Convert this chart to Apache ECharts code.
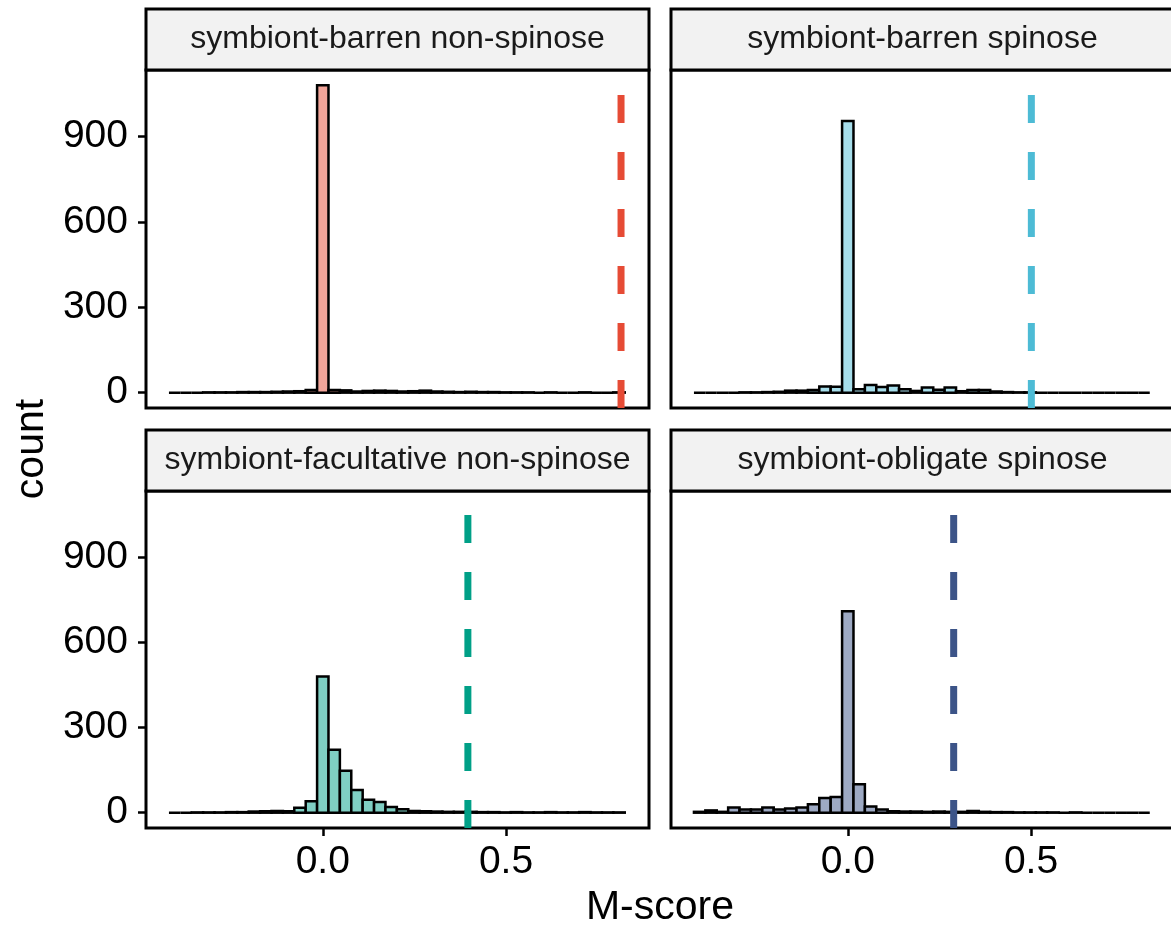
<!DOCTYPE html>
<html>
<head>
<meta charset="utf-8">
<script src="https://cdn.jsdelivr.net/npm/echarts@6/dist/echarts.min.js"></script>
<style>
html,body{margin:0;padding:0;background:#fff;}
#chart{width:1171px;height:931px;}
</style>
</head>
<body>
<div id="chart"></div>
<script>
// histogram bins: 40 bins, bin 13 is centred on 0
var binWidth = 0.0311;
var zeroBin = 13;

var panelNames = ['symbiont-barren non-spinose', 'symbiont-barren spinose',
                  'symbiont-facultative non-spinose', 'symbiont-obligate spinose'];

// counts per bin
var barrenNonSpinose = [0,0,0,1,1,1,2,2,2,3,4,5,9,1080,9,8,4,6,7,6,4,5,7,4,3,2,3,2,2,1,1,1,0,1,0,0,1,0,0,1];
var barrenSpinose = [0,0,0,0,1,1,2,3,7,7,9,22,21,955,12,27,20,25,12,6,18,10,18,5,9,9,4,2,1,1,0,0,0,0,0,0,0,0,0,0];
var facultativeNonSpinose = [0,0,1,1,1,2,2,4,5,6,5,17,40,480,222,148,80,46,38,20,12,6,5,4,3,3,3,2,2,1,2,1,1,2,1,1,2,1,1,1];
var obligateSpinose = [3,8,3,18,11,11,18,11,15,18,30,52,55,710,100,22,11,5,4,4,3,4,3,3,6,3,2,2,1,1,1,1,0,1,0,0,0,0,0,0];

// observed M-score per group (dashed lines)
var observed = [0.814, 0.501, 0.396, 0.289];

var lineColors = ['#E64B35', '#4DBBD5', '#00A087', '#3C5488'];
var fillColors = ['#F2A59A', '#A6DDEA', '#7FCFC3', '#9DA9C3'];

var yTicks = [0, 300, 600, 900];
var xTicks = [0, 0.5];

var font = '"Liberation Sans", Arial, Helvetica, sans-serif';
var yMin = -54, yMax = 1134;
var xMin = -0.4825;
var pxPerUnit = 366.4;

var allCounts = [barrenNonSpinose, barrenSpinose, facultativeNonSpinose, obligateSpinose];

var myChart = echarts.init(document.getElementById('chart'));

// right panels run past the edge of the picture, as in the original
var boxes = [
    {left: 146, top: 70, width: 503, height: 338},
    {left: 671, top: 70, width: 507, height: 338},
    {left: 146, top: 491, width: 503, height: 337},
    {left: 671, top: 491, width: 507, height: 337}
];

var grids = [], xAxes = [], yAxes = [], series = [], graphics = [];

for (var p = 0; p < 4; p++) {
    var b = boxes[p];
    grids.push({left: b.left, top: b.top, width: b.width, height: b.height,
        outerBoundsMode: 'none', containLabel: false,
        show: true, borderColor: '#000', borderWidth: 3, backgroundColor: '#fff'});
    var bottomRow = p >= 2, leftCol = p % 2 === 0;
    xAxes.push({
        type: 'value', gridIndex: p, min: xMin, max: xMin + b.width / pxPerUnit,
        splitLine: {show: false},
        axisLine: {show: false, onZero: false},
        axisTick: {show: bottomRow, length: 8, lineStyle: {color: '#000', width: 2.5}, customValues: xTicks},
        axisLabel: {show: bottomRow, customValues: xTicks, fontSize: 39, color: '#000', fontFamily: font, margin: 15,
            formatter: function (v) { return v.toFixed(1); }}
    });
    yAxes.push({
        type: 'value', gridIndex: p, min: yMin, max: yMax,
        splitLine: {show: false},
        axisLine: {show: false, onZero: false},
        axisTick: {show: leftCol, length: 8, lineStyle: {color: '#000', width: 2.5}, customValues: yTicks},
        axisLabel: {show: leftCol, customValues: yTicks, fontSize: 39, color: '#000', fontFamily: font, margin: 18}
    });

    var data = [];
    var counts = allCounts[p];
    for (var i = 0; i < counts.length; i++) {
        var x0 = (i - zeroBin - 0.5) * binWidth;
        data.push([x0, x0 + binWidth, counts[i]]);
    }
    (function (fill) {
        series.push({
            type: 'custom', xAxisIndex: p, yAxisIndex: p, data: data, silent: true,
            renderItem: function (params, api) {
                var a = api.coord([api.value(0), 0]);
                var c = api.coord([api.value(1), api.value(2)]);
                return {
                    type: 'rect',
                    shape: {x: a[0], y: c[1], width: c[0] - a[0], height: a[1] - c[1]},
                    style: {fill: fill, stroke: '#000', lineWidth: 2.5}
                };
            }
        });
    })(fillColors[p]);

    series.push({
        type: 'line', xAxisIndex: p, yAxisIndex: p, symbol: 'none', silent: true,
        data: [[observed[p], yMin], [observed[p], yMax]],
        lineStyle: {color: lineColors[p], width: 7, type: [28, 29]},
        z: 5
    });

    // facet strip
    var stripTop = p < 2 ? 9 : 430;
    var textWidth = p % 2 === 0 ? b.width : 503;
    graphics.push({
        type: 'rect', shape: {x: b.left, y: stripTop, width: b.width, height: b.top - stripTop},
        style: {fill: '#F2F2F2', stroke: '#000', lineWidth: 3}
    });
    graphics.push({
        type: 'text', x: b.left + textWidth / 2, y: stripTop + (b.top - stripTop) / 2,
        style: {text: panelNames[p], fontSize: 32, fontFamily: font, fill: '#1A1A1A',
            textAlign: 'center', textVerticalAlign: 'middle'}
    });
}

graphics.push({
    type: 'text', x: 32, y: 449, rotation: Math.PI / 2,
    style: {text: 'count', fontSize: 41, fontFamily: font, fill: '#000', textAlign: 'center', textVerticalAlign: 'middle'}
});
graphics.push({
    type: 'text', x: 660, y: 908,
    style: {text: 'M-score', fontSize: 41, fontFamily: font, fill: '#000', textAlign: 'center', textVerticalAlign: 'middle'}
});

var option = {
    animation: false,
    backgroundColor: '#fff',
    grid: grids,
    xAxis: xAxes,
    yAxis: yAxes,
    series: series,
    graphic: graphics
};

myChart.setOption(option);
</script>
</body>
</html>
